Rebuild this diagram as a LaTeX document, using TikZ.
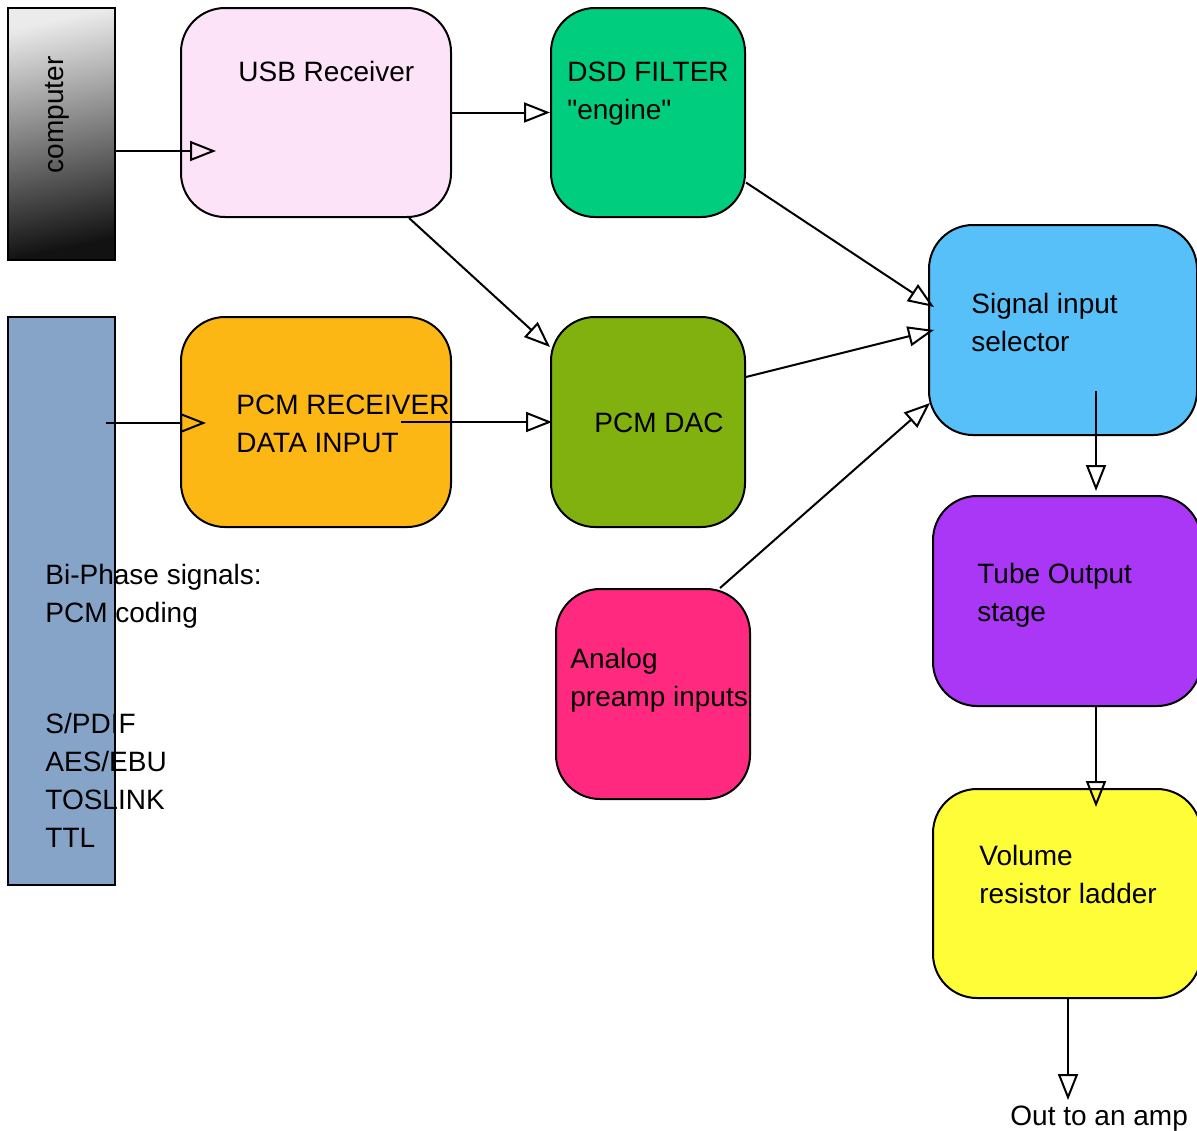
\documentclass[tikz,border=0pt]{standalone}
\usepackage{fontspec}
\setmainfont{Liberation Sans}[Ligatures=TeXOff]
\usepackage{tikz}
\usetikzlibrary{calc,arrows.meta}
\definecolor{usbpink}{HTML}{FDE3F8}
\definecolor{dsdgreen}{HTML}{00CE7E}
\definecolor{selblue}{HTML}{57C0F8}
\definecolor{rxorange}{HTML}{FCB714}
\definecolor{dacgreen}{HTML}{80B10F}
\definecolor{phaseblue}{HTML}{86A3C8}
\definecolor{analogpink}{HTML}{FF2A80}
\definecolor{tubepurple}{HTML}{AA37F5}
\definecolor{volyellow}{HTML}{FFFC38}

\begin{document}
\begin{tikzpicture}[x=0.5pt, y=-0.5pt,
    block/.style={draw, line width=1pt, rounded corners=22pt, inner sep=0pt},
    plain/.style={draw, line width=1pt, inner sep=0pt},
    txt/.style={anchor=west, align=left, inner sep=0pt,
      font=\fontsize{14}{19}\selectfont},
    flow/.style={-{Triangle[open, length=13pt, width=10pt]}, line width=1pt}]
  \useasboundingbox (0,0) rectangle (1197,1130);

  % sources on the left
  \node[plain, top color=black!8, bottom color=black!93, shading angle=12,
    minimum width=53.5pt, minimum height=126pt] (computer) at (61.5,134) {};
  \node[txt, anchor=center, rotate=90] (computerlbl) at (57,115) {computer};
  \node[plain, fill=phaseblue, minimum width=53.5pt, minimum height=284pt]
    (biphase) at (61.5,601) {};
  \node[txt] (codinglbl) at (45,596.5) {Bi-Phase signals:\\PCM coding};
  \node[txt] (formatlbl) at (45,780.5) {S/PDIF\\AES/EBU\\TOSLINK\\TTL};

  % receivers and converters
  \node[block, fill=usbpink, minimum width=135pt, minimum height=104.5pt]
    (usb) at (316,112.5) {};
  \node[txt] (usblbl) at (238,71) {USB Receiver};
  \node[block, fill=dsdgreen, minimum width=97pt, minimum height=104.5pt]
    (dsd) at (648,112.5) {};
  \node[txt] (dsdlbl) at (567,93.5) {DSD FILTER\\"engine"};
  \node[block, fill=rxorange, minimum width=135pt, minimum height=105pt]
    (pcmrx) at (316,422) {};
  \node[txt] (pcmrxlbl) at (236,423.5) {PCM RECEIVER\\DATA INPUT};
  \node[block, fill=dacgreen, minimum width=97pt, minimum height=105pt]
    (dac) at (648,422) {};
  \node[txt] (daclbl) at (594,423) {PCM DAC};
  \node[block, fill=analogpink, minimum width=97pt, minimum height=105pt]
    (analog) at (653,694) {};
  \node[txt] (analoglbl) at (570,680.5) {Analog\\preamp inputs};

  % output chain
  \node[block, fill=selblue, minimum width=134pt, minimum height=105pt]
    (sel) at (1063,330) {};
  \node[txt] (sellbl) at (971,322) {Signal input\\selector};
  \node[block, fill=tubepurple, minimum width=134pt, minimum height=105pt]
    (tube) at (1067,601) {};
  \node[txt] (tubelbl) at (977,595) {Tube Output\\stage};
  \node[block, fill=volyellow, minimum width=134pt, minimum height=104.5pt]
    (vol) at (1067,893.5) {};
  \node[txt] (vollbl) at (979,874) {Volume\\resistor ladder};
  \node[txt] (outlbl) at (1010,1119) {Out to an amp};
  \coordinate (ampend) at (1068,1100);

  % connectors
  \draw[flow] ($(computer.east)+(0,17)$) -- ($(usb.west)+(36,38.5)$);
  \draw[flow] (usb.east) -- (dsd.west);
  \draw[flow] ($(usb.south)+(93,0)$) -- ($(dac.west)+(0,-75)$);
  \draw[flow] ($(biphase.east)+(-10,-178)$) -- ($(pcmrx.west)+(26,1)$);
  \draw[flow] ($(pcmrx.east)+(-51,0)$) -- ($(dac.west)+(2,0)$);
  \draw[flow] ($(dsd.east)+(0,70)$) -- ($(sel.west)+(6,-23)$);
  \draw[flow] ($(dac.east)+(0,-45)$) -- ($(sel.west)+(6,0)$);
  \draw[flow] ($(analog.north)+(67,0)$) -- ($(sel.west)+(2,73)$);
  \draw[flow] ($(sel.south)+(33,-45)$) -- ($(tube.north)+(29,-4)$);
  \draw[flow] ($(tube.south)+(29,0)$) -- ($(vol.north)+(29,19)$);
  \draw[flow] ($(vol.south)+(1,0)$) -- (ampend);
\end{tikzpicture}
\end{document}
